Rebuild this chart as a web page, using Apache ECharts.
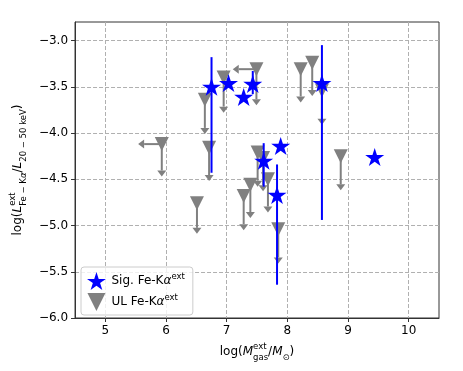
<!DOCTYPE html>
<html>
<head>
<meta charset="utf-8">
<script src="https://cdn.jsdelivr.net/npm/echarts@6.0.0/dist/echarts.min.js"></script>
<style>
html, body { margin: 0; padding: 0; background: #fff; }
#chart { width: 463px; height: 371px; }
</style>
</head>
<body>
<div id="chart"></div>
<script>
var xTicks = [5, 6, 7, 8, 9, 10];
var yTicks = [-6.0, -5.5, -5.0, -4.5, -4.0, -3.5, -3.0];

// significant extended Fe-Ka detections
var sigX = [6.75, 7.03, 7.28, 7.43, 7.61, 7.89, 7.83, 8.57, 9.44];
var sigY = [-3.50, -3.46, -3.61, -3.47, -4.30, -4.14, -4.67, -3.46, -4.26];
var sigErrHi = [-3.18, null, null, -3.33, -4.11, null, -4.34, -3.05, null];
var sigErrLo = [-4.43, null, null, -3.58, -4.58, null, -5.64, -4.94, null];

// upper limits
var ulX = [5.93, 6.64, 6.71, 6.95, 7.49, 8.22, 8.41, 8.57, 8.88, 6.51, 7.51, 7.60, 7.39, 7.28, 7.68, 7.85];
var ulY = [-4.12, -3.64, -4.16, -3.40, -3.31, -3.31, -3.24, -3.54, -4.25, -4.76, -4.21, -4.27, -4.56, -4.68, -4.50, -5.04];
var ulDownTo = [-4.47, -4.01, -4.52, -3.78, -3.70, -3.67, -3.60, -3.91, -4.62, -5.09, -4.58, -4.63, -4.92, -5.05, -4.86, -5.41];
var ulLeftTo = [5.54, null, null, null, 7.10, null, null, null, null, null, null, null, null, null, null, null];

var BLUE = '#0000ff', GRAY = '#808080', FONT = 'DejaVu Sans';

function starPath() {
    var pts = [];
    for (var i = 0; i < 10; i++) {
        var r = i % 2 ? 38.1966 : 100;
        var a = -Math.PI / 2 + i * Math.PI / 5;
        pts.push((r * Math.cos(a)).toFixed(2) + ',' + (r * Math.sin(a)).toFixed(2));
    }
    return 'path://M' + pts.join('L') + 'Z';
}
var STAR = starPath();
var TRI = 'path://M0,0L20,0L10,20Z';

var sigPts = [], sigErrs = [], ulPts = [], ulArrows = [];
for (var i = 0; i < sigX.length; i++) {
    sigPts.push([sigX[i], sigY[i]]);
    if (sigErrHi[i] != null) {
        sigErrs.push([sigX[i], sigErrLo[i], sigErrHi[i]]);
    }
}
for (var i = 0; i < ulX.length; i++) {
    ulPts.push([ulX[i], ulY[i]]);
    ulArrows.push([ulX[i], ulY[i], ulX[i], ulDownTo[i]]);
    if (ulLeftTo[i] != null) {
        ulArrows.push([ulX[i], ulY[i], ulLeftTo[i], ulY[i]]);
    }
}

function renderArrow(params, api) {
    var p0 = api.coord([api.value(0), api.value(1)]);
    var p1 = api.coord([api.value(2), api.value(3)]);
    var dx = p1[0] - p0[0], dy = p1[1] - p0[1];
    var len = Math.sqrt(dx * dx + dy * dy) || 1;
    var ux = dx / len, uy = dy / len;
    var hl = 6, hw = 4.5;
    var b = [p1[0] - ux * hl, p1[1] - uy * hl];
    return {
        type: 'group',
        children: [{
            type: 'line',
            shape: {x1: p0[0], y1: p0[1], x2: b[0], y2: b[1]},
            style: {stroke: GRAY, lineWidth: 2}
        }, {
            type: 'polygon',
            shape: {points: [p1, [b[0] - uy * hw, b[1] + ux * hw], [b[0] + uy * hw, b[1] - ux * hw]]},
            style: {fill: GRAY}
        }]
    };
}

function renderErr(params, api) {
    var p0 = api.coord([api.value(0), api.value(1)]);
    var p1 = api.coord([api.value(0), api.value(2)]);
    return {
        type: 'line',
        shape: {x1: p0[0], y1: p0[1], x2: p1[0], y2: p1[1]},
        style: {stroke: BLUE, lineWidth: 2}
    };
}

// every token left aligned so the zero-width superscript sits over the subscript
var nameRich = {
    t: {fontFamily: FONT, fontSize: 12, lineHeight: 20, verticalAlign: 'middle', align: 'left', color: '#000'},
    i: {fontFamily: FONT, fontSize: 12, lineHeight: 20, verticalAlign: 'middle', align: 'left', fontStyle: 'italic', color: '#000'},
    sup: {fontFamily: FONT, fontSize: 8.5, lineHeight: 10, verticalAlign: 'top', align: 'left', width: 0, color: '#000'},
    sub: {fontFamily: FONT, fontSize: 8.5, lineHeight: 9, verticalAlign: 'bottom', align: 'left', color: '#000'},
    subi: {fontFamily: FONT, fontSize: 8.5, lineHeight: 9, verticalAlign: 'bottom', align: 'left', fontStyle: 'italic', color: '#000'}
};

var chart = echarts.init(document.getElementById('chart'), null, {renderer: 'canvas'});
chart.setOption({
    animation: false,
    backgroundColor: '#fff',
    grid: {left: 73, right: 24, top: 22, bottom: 53, show: true, borderColor: '#333', borderWidth: 1},
    legend: {
        orient: 'vertical',
        left: 81,
        top: 267,
        padding: [5, 8, 4, 6],
        itemGap: 3,
        itemWidth: 20,
        itemHeight: 18,
        borderColor: '#ccc',
        borderWidth: 1,
        borderRadius: 3,
        backgroundColor: 'rgba(255,255,255,0.8)',
        data: ['Sig. Fe-Kα', 'UL Fe-Kα'],
        formatter: function (name) {
            return '{t|' + name.replace('α', '') + '}{a|α}{sup|ext}';
        },
        textStyle: {
            fontFamily: FONT, fontSize: 12, color: '#000',
            rich: {
                t: {fontFamily: FONT, fontSize: 12, lineHeight: 18, verticalAlign: 'middle'},
                a: {fontFamily: FONT, fontSize: 12, lineHeight: 18, verticalAlign: 'middle', fontStyle: 'italic'},
                sup: {fontFamily: FONT, fontSize: 8.5, lineHeight: 9, verticalAlign: 'top'}
            }
        }
    },
    xAxis: {
        type: 'value',
        min: 4.5,
        max: 10.5,
        splitNumber: 6,
        name: '{t|log(}{i|M}{sup|ext}{sub|gas}{t|/}{i|M}{sub|⊙}{t|)}',
        nameLocation: 'middle',
        nameGap: 22,
        nameTextStyle: {fontFamily: FONT, fontSize: 12, color: '#000', rich: nameRich},
        axisLine: {show: true, lineStyle: {color: '#333', width: 1}},
        axisTick: {show: true, length: 4, lineStyle: {color: '#333'}, customValues: xTicks},
        axisLabel: {
            fontFamily: FONT, fontSize: 12, color: '#000', margin: 7,
            customValues: xTicks,
            formatter: function (v) { return String(v); }
        },
        splitLine: {show: true, lineStyle: {color: '#b0b0b0', type: [4, 2], width: 1}}
    },
    yAxis: {
        type: 'value',
        min: -6,
        max: -2.8,
        interval: 0.5,
        name: '{t|log(}{i|L}{sup|ext}{sub|Fe − K}{subi|α}{t|/}{i|L}{sub|20 − 50 keV}{t|)}',
        nameLocation: 'middle',
        nameRotate: 90,
        nameGap: 32,
        nameTextStyle: {fontFamily: FONT, fontSize: 12, color: '#000', rich: nameRich},
        axisLine: {show: true, lineStyle: {color: '#333', width: 1}},
        axisTick: {show: true, length: 4, lineStyle: {color: '#333'}, customValues: yTicks},
        axisLabel: {
            fontFamily: FONT, fontSize: 12, color: '#000', margin: 7,
            customValues: yTicks,
            formatter: function (v) { return (v < 0 ? '\u2212' : '') + Math.abs(v).toFixed(1); }
        },
        splitLine: {show: true, lineStyle: {color: '#b0b0b0', type: [4, 2], width: 1}}
    },
    series: [{
        name: 'ulArrows',
        type: 'custom',
        renderItem: renderArrow,
        data: ulArrows,
        encode: {x: [0, 2], y: [1, 3]},
        silent: true,
        z: 2
    }, {
        name: 'UL Fe-Kα',
        type: 'scatter',
        symbol: TRI,
        symbolSize: [14, 14],
        itemStyle: {color: GRAY, opacity: 1},
        data: ulPts,
        z: 3
    }, {
        name: 'sigErr',
        type: 'custom',
        renderItem: renderErr,
        data: sigErrs,
        encode: {x: 0, y: [1, 2]},
        silent: true,
        z: 4
    }, {
        name: 'Sig. Fe-Kα',
        type: 'scatter',
        symbol: STAR,
        symbolSize: [19, 18],
        itemStyle: {color: BLUE, opacity: 1},
        data: sigPts,
        z: 5
    }]
});
</script>
</body>
</html>
